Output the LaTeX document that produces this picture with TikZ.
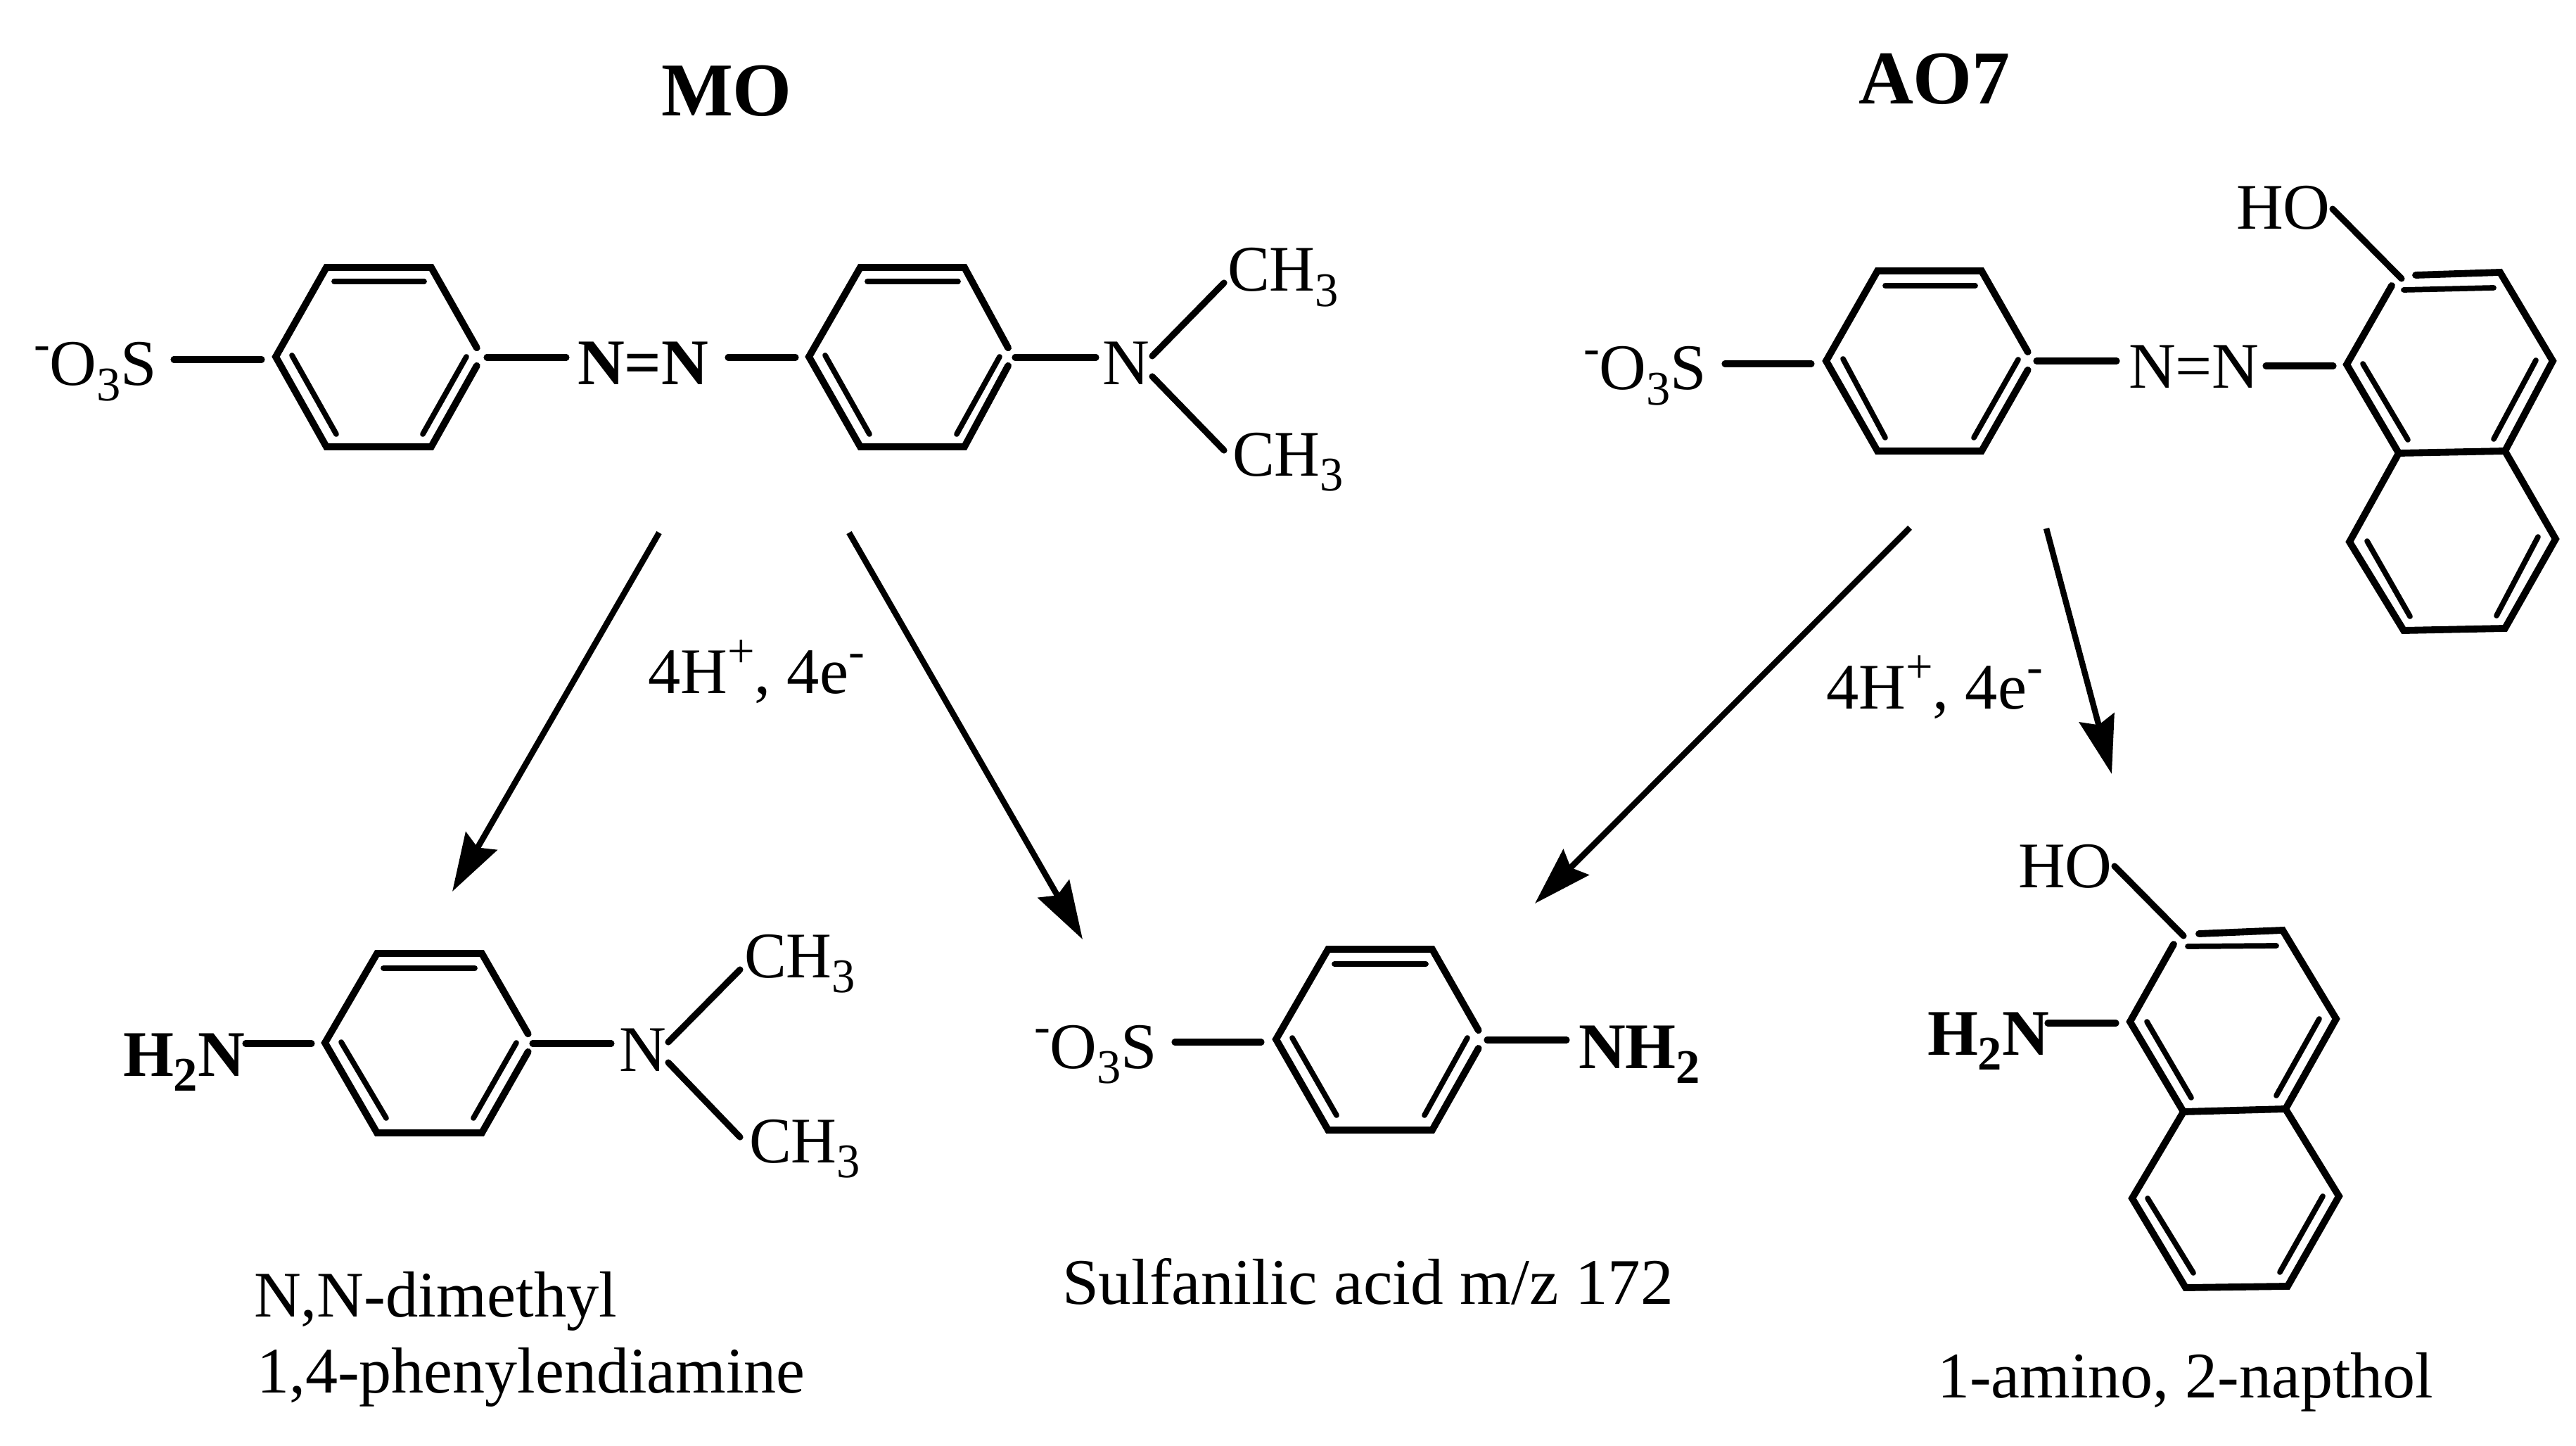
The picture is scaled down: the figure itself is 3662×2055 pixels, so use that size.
\documentclass[tikz,border=0pt]{standalone}
\usepackage{fontspec}
\setmainfont{Liberation Serif}
\usetikzlibrary{arrows.meta,calc}
\newcommand\subs[1]{\raisebox{-6.2pt}{\fontsize{19.5}{20}\selectfont #1}}
\newcommand\sups[1]{\raisebox{10.5pt}{\fontsize{19.5}{20}\selectfont #1}}
% one bond with two named free ends
\newcommand\bond[4][subst]{\coordinate (#2a) at (#3); \coordinate (#2b) at (#4); \draw[#1] (#2a) -- (#2b);}
% the six corners of a ring
\newcommand\hexa[7]{\coordinate (#1L) at (#2); \coordinate (#1TL) at (#3); \coordinate (#1TR) at (#4);
  \coordinate (#1R) at (#5); \coordinate (#1BR) at (#6); \coordinate (#1BL) at (#7);}
% outer lines of a para-substituted ring, broken at its right corner
\newcommand\ringout[1]{\draw[outer] ($(#1TR)!.9!(#1R)$) -- (#1TR) -- (#1TL) -- (#1L) -- (#1BL) -- (#1BR) -- ($(#1BR)!.9!(#1R)$);}
\tikzset{
  txt/.style={anchor=base west,inner sep=0pt,outer sep=0pt,font=\fontsize{26.3}{32}\selectfont},
  ttl/.style={anchor=base west,inner sep=0pt,outer sep=0pt,font=\fontsize{30.7}{36}\selectfont\bfseries},
  outer/.style={line width=2.8pt,line join=miter,line cap=round},
  inner/.style={line width=2.2pt,line cap=round},
  subst/.style={line width=2.6pt,line cap=round},
  react/.style={line width=2.4pt,-{Stealth[length=23.5pt,width=14.5pt,inset=3pt]}}
}
\begin{document}
\begin{tikzpicture}[x=0.01cm,y=-0.01cm]
\fill[white] (0,0) rectangle (3662,2055);
\useasboundingbox (0,0) rectangle (3662,2055);
% titles
\node[ttl] (mo) at (940,165) {MO};
\node[ttl] (aoseven) at (2642,148) {AO7};
% ---------- MO ----------
\node[txt] (moso) at (48,548) {\sups{-}O\subs{3}S};
\node[txt] (monn) at (821,547) {\bfseries N=N};
\node[txt] (mon) at (1567,547) {N};
\node[txt,xscale=.97] (moch1) at (1745,414) {CH\subs{3}};
\node[txt,xscale=.97] (moch2) at (1752,676) {CH\subs{3}};
\hexa{a}{392,507}{464,380}{613,380}{685,507}{613,635}{464,635}
\ringout{a}
\bond[inner]{ai1}{475,400}{603,400}
\bond[inner]{ai2}{415,505}{478,617}
\bond[inner]{ai3}{663,507}{601,617}
\bond{as1}{247,511}{372,511}
\bond{as2}{692,508}{805,508}
\hexa{b}{1150,507}{1223,380}{1371,380}{1440,507}{1371,635}{1223,635}
\ringout{b}
\bond[inner]{bi1}{1233,400}{1362,400}
\bond[inner]{bi2}{1173,505}{1236,617}
\bond[inner]{bi3}{1421,507}{1360,617}
\bond{bs1}{1035,508}{1131,508}
\bond{bs2}{1443,508}{1558,508}
\bond{bs3}{1638,506}{1740,402}
\bond{bs4}{1638,535}{1740,640}
% ---------- AO7 ----------
\node[txt] (aoso) at (2251,554) {\sups{-}O\subs{3}S};
\node[txt] (aonn) at (3026,552) {N=N};
\node[txt] (aoho) at (3179,326) {HO};
\hexa{c}{2596,513}{2669,385}{2817,385}{2890,513}{2817,641}{2669,641}
\ringout{c}
\bond[inner]{ci1}{2680,406}{2808,406}
\bond[inner]{ci2}{2620,510}{2680,622}
\bond[inner]{ci3}{2869,511}{2806,622}
\bond{cs1}{2452,517}{2575,517}
\bond{cs2}{2895,513}{3009,513}
\bond{cs3}{3221,520}{3317,520}
\bond{cs4}{3316,297}{3414,396}
% naphthol of AO7
\hexa{d}{3336,518}{3409,393}{3554,387}{3629,513}{3561,641}{3410,644}
\coordinate (dg1) at (3400,406);
\coordinate (dg2) at (3434,391);
\draw[outer] (dg1) -- (dL) -- (dBL) -- (dBR) -- (dR) -- (dTR) -- (dg2);
\bond[inner]{di1}{3417,412}{3545,409}
\bond[inner]{di2}{3605,512}{3545,624}
\bond[inner]{di3}{3359,517}{3423,625}
\coordinate (eR) at (3633,766);
\coordinate (eBR) at (3561,893);
\coordinate (eBL) at (3417,896);
\coordinate (eL) at (3340,770);
\draw[outer] (dBL) -- (eL) -- (eBL) -- (eBR) -- (eR) -- (dBR);
\bond[inner]{ei1}{3365,769}{3426,876}
\bond[inner]{ei2}{3608,763}{3549,875}
% ---------- reaction arrows ----------
\bond[react]{ra}{937,757}{643,1267}
\bond[react]{rb}{1207,757}{1539,1335}
\bond[react]{rc}{2715,750}{2182,1284}
\bond[react]{rd}{2909,751}{3002,1100}
\node[txt] (lab1) at (921,985) {4H\sups{+}, 4e\sups{-}};
\node[txt] (lab2) at (2596,1007) {4H\sups{+}, 4e\sups{-}};
% ---------- N,N-dimethyl-1,4-phenylendiamine ----------
\node[txt] (fnh) at (175,1529) {\bfseries H\subs{2}N};
\node[txt] (fn) at (880,1522) {N};
\node[txt,xscale=.97] (fch1) at (1058,1389) {CH\subs{3}};
\node[txt,xscale=.97] (fch2) at (1065,1652) {CH\subs{3}};
\hexa{f}{462,1482}{536,1355}{685,1355}{758,1482}{685,1610}{536,1610}
\ringout{f}
\bond[inner]{fi1}{545,1376}{675,1376}
\bond[inner]{fi2}{485,1481}{549,1589}
\bond[inner]{fi3}{734,1482}{673,1589}
\bond{fs1}{349,1483}{443,1483}
\bond{fs2}{757,1483}{869,1483}
\bond{fs3}{950,1481}{1052,1378}
\bond{fs4}{950,1510}{1052,1616}
\node[txt] (fname1) at (361,1871) {N,N-dimethyl};
\node[txt,xscale=.995] (fname2) at (365,1979) {1,4-phenylendiamine};
% ---------- sulfanilic acid ----------
\node[txt] (gso) at (1470,1518) {\sups{-}O\subs{3}S};
\node[txt] (gnh) at (2244,1518) {\bfseries NH\subs{2}};
\hexa{g}{1814,1477}{1888,1349}{2036,1349}{2109,1477}{2036,1606}{1888,1606}
\ringout{g}
\bond[inner]{gi1}{1897,1370}{2027,1370}
\bond[inner]{gi2}{1837,1475}{1900,1585}
\bond[inner]{gi3}{2086,1475}{2025,1585}
\bond{gs1}{1670,1481}{1793,1481}
\bond{gs2}{2114,1478}{2227,1478}
\node[txt,xscale=1.01] (gname) at (1510,1853) {Sulfanilic acid m/z 172};
% ---------- 1-amino, 2-napthol ----------
\node[txt] (hho) at (2869,1261) {HO};
\node[txt] (hnh) at (2740,1499) {\bfseries H\subs{2}N};
\hexa{h}{3028,1452}{3102,1331}{3245,1322}{3321,1448}{3249,1576}{3104,1580}
\coordinate (hg1) at (3090,1342);
\coordinate (hg2) at (3126,1327);
\draw[outer] (hg1) -- (hL) -- (hBL) -- (hBR) -- (hR) -- (hTR) -- (hg2);
\bond[inner]{hi1}{3110,1345}{3236,1344}
\bond[inner]{hi2}{3297,1448}{3236,1557}
\bond[inner]{hi3}{3052,1452}{3115,1560}
\coordinate (kR) at (3325,1700);
\coordinate (kBR) at (3252,1828);
\coordinate (kBL) at (3107,1830);
\coordinate (kL) at (3031,1703);
\draw[outer] (hBL) -- (kL) -- (kBL) -- (kBR) -- (kR) -- (hBR);
\bond[inner]{ki1}{3053,1703}{3118,1809}
\bond[inner]{ki2}{3302,1700}{3241,1808}
\bond{hs1}{2911,1454}{3008,1454}
\bond{hs2}{3006,1231}{3104,1330}
\node[txt,xscale=.995] (hname) at (2754,1986) {1-amino, 2-napthol};
\end{tikzpicture}
\end{document}
